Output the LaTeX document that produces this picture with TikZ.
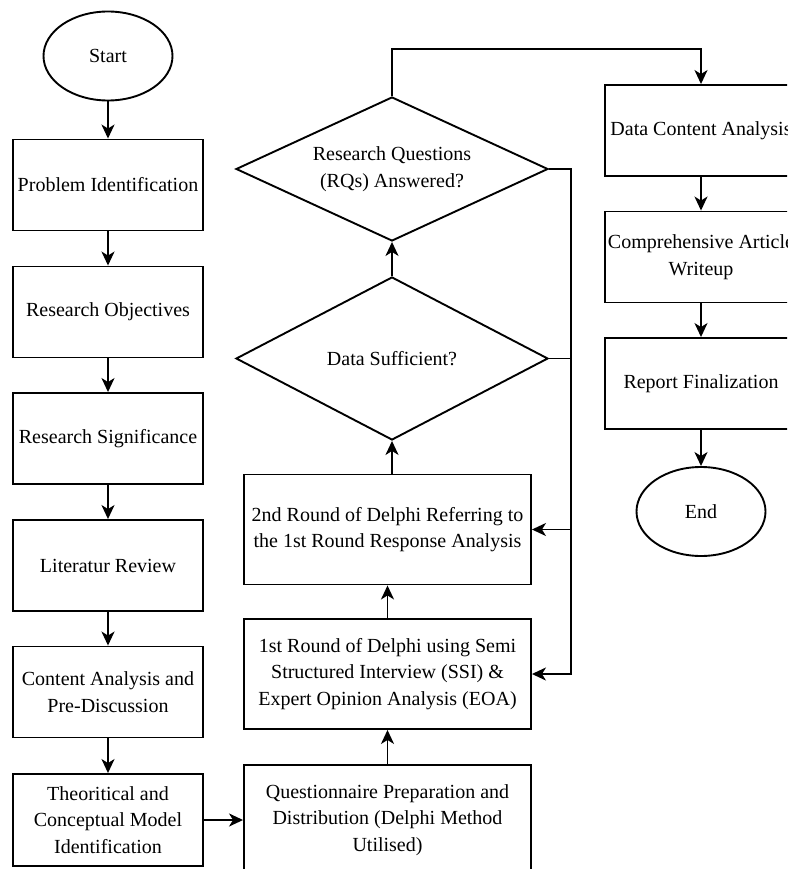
\documentclass[tikz,border=0pt]{standalone}
\usepackage{fontspec}
\setmainfont{Liberation Serif}
\usetikzlibrary{shapes.geometric,arrows.meta}
\begin{document}
\begin{tikzpicture}[x=1pt,y=-1pt,
  txt/.style={font=\fontsize{20}{26.5}\selectfont, align=center, text=black},
  box/.style={txt, draw, rectangle, line width=1.9pt, inner sep=0pt},
  lbox/.style={box, minimum width=190pt, minimum height=91pt},
  mbox/.style={box, minimum width=287pt, minimum height=110pt},
  rbox/.style={box, minimum width=192pt, minimum height=91pt},
  term/.style={txt, draw, ellipse, line width=1.9pt, inner sep=0pt, minimum width=129pt, minimum height=89pt},
  dia/.style={txt, draw, diamond, aspect=2, line width=1.9pt, inner sep=0pt, minimum width=312pt},
  arr/.style={-{Stealth[length=14pt,width=13pt,inset=4pt]}, line width=1.9pt}]
\path[use as bounding box] (0,0) rectangle (787,869);
\fill[white] (0,0) rectangle (787,869);
\clip (0,0) rectangle (787,869);

% left column
\node[term] (start) at (108,56) {Start};
\node[lbox] (p1) at (108,185) {Problem Identification};
\node[lbox] (p2) at (108,312) {Research Objectives};
\node[lbox] (p3) at (108,438.5) {Research Significance};
\node[lbox] (p4) at (108,565.5) {Literatur Review};
\node[lbox] (p5) at (108,692) {Content Analysis and\\Pre-Discussion};
\node[lbox, minimum height=92pt] (p6) at (108,820) {Theoritical and\\Conceptual Model\\Identification};

% middle column
\node[mbox] (q) at (387.5,820) {Questionnaire Preparation and\\Distribution (Delphi Method\\Utilised)};
\node[mbox] (r1) at (387.5,674) {1st Round of Delphi using Semi\\Structured Interview (SSI) \&\\Expert Opinion Analysis (EOA)};
\node[mbox] (r2) at (387.5,529.5) {2nd Round of Delphi Referring to\\the 1st Round Response Analysis};
\node[dia, minimum height=163pt] (ds) at (392,358.5) {Data Sufficient?};
\node[dia, minimum height=144pt] (rq) at (392,169) {Research Questions\\(RQs) Answered?};

% right column
\node[rbox] (dca) at (701,130.5) {Data Content Analysis};
\node[rbox] (caw) at (701,257) {Comprehensive Article\\Writeup};
\node[rbox] (rf) at (701,383.5) {Report Finalization};
\node[term] (end) at (701,511.5) {End};

\coordinate (topy) at (0,49);
\coordinate (bus) at (571,0);

% connectors
\draw[arr] (start) -- (p1);
\draw[arr] (p1) -- (p2);
\draw[arr] (p2) -- (p3);
\draw[arr] (p3) -- (p4);
\draw[arr] (p4) -- (p5);
\draw[arr] (p5) -- (p6);
\draw[arr] (p6) -- (q);
\draw[arr] (q) -- (r1);
\draw[arr] (r1) -- (r2);
\draw[arr] (r2.north -| ds.south) -- (ds.south);
\draw[arr] (ds) -- (rq);
\draw[arr] (rq.north) -- (rq.north |- topy) -| (dca.north);
\draw[arr] (rq.east) -- (rq.east -| bus) |- (r1.east);
\draw[arr] (ds.east) -- (ds.east -| bus) |- (r2.east);
\draw[arr] (dca) -- (caw);
\draw[arr] (caw) -- (rf);
\draw[arr] (rf) -- (end);
\end{tikzpicture}
\end{document}
